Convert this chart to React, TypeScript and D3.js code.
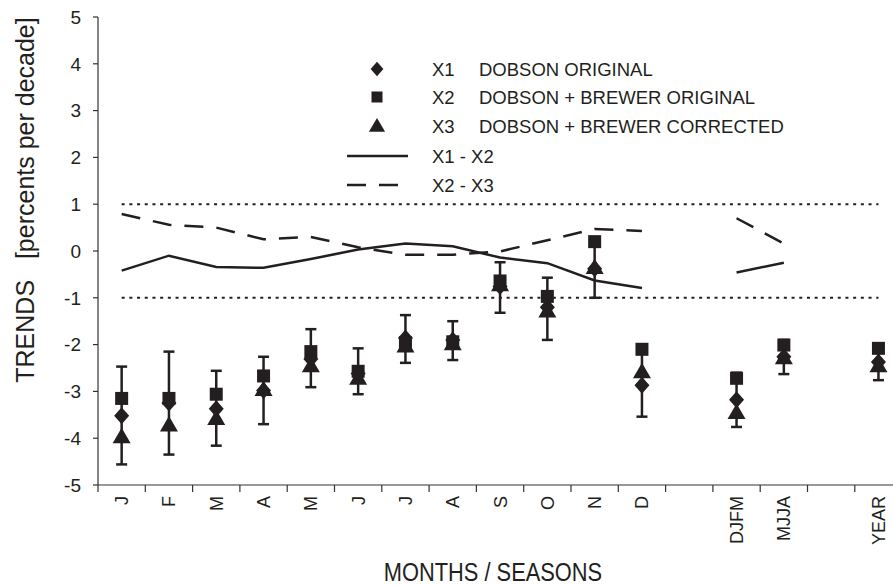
import { useEffect, useRef } from "react";
import * as d3 from "d3";

// ── Data ───────────────────────────────────────────────────────
const categories = ["J", "F", "M", "A", "M", "J", "J", "A", "S", "O", "N", "D", "", "DJFM", "MJJA", "", "YEAR"];

// X1 DOBSON ORIGINAL (diamonds)
const x1Values = [-3.52, -3.25, -3.37, -2.98, -2.31, -2.62, -1.86, -1.9, -0.76, -1.2, -0.38, -2.87, null, -3.18, -2.26, null, -2.37];
// X2 DOBSON + BREWER ORIGINAL (squares)
const x2Values = [-3.15, -3.15, -3.06, -2.67, -2.15, -2.57, -1.96, -1.94, -0.64, -0.97, 0.2, -2.1, null, -2.72, -2.01, null, -2.08];
// X3 DOBSON + BREWER CORRECTED (triangles)
const x3Values = [-3.97, -3.72, -3.58, -2.96, -2.45, -2.72, -2.03, -1.98, -0.72, -1.28, -0.35, -2.58, null, -3.45, -2.28, null, -2.45];
// error bar limits around X1
const errLow = [-4.56, -4.35, -4.16, -3.7, -2.91, -3.06, -2.39, -2.33, -1.32, -1.9, -1.0, -3.54, null, -3.76, -2.63, null, -2.76];
const errHigh = [-2.47, -2.15, -2.56, -2.26, -1.67, -2.08, -1.37, -1.5, -0.24, -0.57, 0.27, -2.2, null, -2.6, -1.9, null, -2.0];
// difference lines
const diff12 = [-0.42, -0.1, -0.34, -0.36, -0.17, 0.03, 0.16, 0.1, -0.14, -0.26, -0.63, -0.79, null, -0.46, -0.25, null, null];
const diff23 = [0.79, 0.56, 0.5, 0.25, 0.3, 0.08, -0.08, -0.08, -0.01, 0.23, 0.47, 0.43, null, 0.7, 0.16, null, null];

const yTicks = [5, 4, 3, 2, 1, 0, -1, -2, -3, -4, -5];
const limitLines = [1, -1];

const legendItems = [
  { kind: "diamond", label: "X1", text: "DOBSON ORIGINAL" },
  { kind: "square", label: "X2", text: "DOBSON + BREWER ORIGINAL" },
  { kind: "triangle", label: "X3", text: "DOBSON + BREWER CORRECTED" },
  { kind: "solid", label: "X1 - X2", text: "" },
  { kind: "dashed", label: "X2 - X3", text: "" },
];

const INK = "#231f20";
const FONT = "'Liberation Sans', Arial, Helvetica, sans-serif";

export default function App() {
  const svgRef = useRef<SVGSVGElement>(null);

  useEffect(() => {
    if (!svgRef.current) return;
    const svg = d3.select(svgRef.current);
    svg.selectAll("*").remove();

    const width = 893;
    const height = 585;
    const left = 98;
    const top = 17;
    const bottom = 485;
    const step = 47.3;

    const x = d3.scaleBand<number>()
      .domain(d3.range(categories.length))
      .range([left, left + step * categories.length])
      .padding(0);
    const cx = (i: number) => (x(i) ?? 0) + x.bandwidth() / 2;

    const y = d3.scaleLinear().domain([-5, 5]).range([bottom, top]);

    svg.attr("width", width).attr("height", height)
      .attr("viewBox", `0 0 ${width} ${height}`);

    svg.append("rect").attr("width", width).attr("height", height).attr("fill", "white");

    // ── Dotted ±1 lines ─────────────────────────────────────────
    limitLines.forEach((v) => {
      svg.append("line")
        .attr("x1", cx(0)).attr("x2", cx(categories.length - 1))
        .attr("y1", y(v)).attr("y2", y(v))
        .attr("stroke", INK)
        .attr("stroke-width", 2)
        .attr("stroke-dasharray", "3,4.7");
    });

    // ── Axes ────────────────────────────────────────────────────
    svg.append("line")
      .attr("x1", left).attr("x2", left)
      .attr("y1", top).attr("y2", bottom)
      .attr("stroke", "#333").attr("stroke-width", 1.2);
    svg.append("line")
      .attr("x1", left).attr("x2", width)
      .attr("y1", bottom).attr("y2", bottom)
      .attr("stroke", "#333").attr("stroke-width", 1.2);

    yTicks.forEach((t) => {
      svg.append("line")
        .attr("x1", left - 5).attr("x2", left)
        .attr("y1", y(t)).attr("y2", y(t))
        .attr("stroke", "#333").attr("stroke-width", 1.2);
      svg.append("text")
        .attr("x", left - 17).attr("y", y(t))
        .attr("dy", "0.36em")
        .attr("text-anchor", "end")
        .attr("font-family", FONT)
        .attr("font-size", 19)
        .attr("fill", INK)
        .text(t);
    });

    d3.range(categories.length + 1).forEach((k) => {
      const xt = left + k * step;
      if (xt > width) return;
      svg.append("line")
        .attr("x1", xt).attr("x2", xt)
        .attr("y1", bottom).attr("y2", bottom + 7)
        .attr("stroke", "#333").attr("stroke-width", 1.2);
    });

    categories.forEach((c, i) => {
      if (!c) return;
      svg.append("text")
        .attr("transform", `translate(${cx(i)},${bottom + 11}) rotate(-90)`)
        .attr("dy", "0.36em")
        .attr("text-anchor", "end")
        .attr("font-family", FONT)
        .attr("font-size", 18)
        .attr("fill", INK)
        .text(c);
    });

    // axis titles (condensed look via horizontal scale)
    svg.append("text")
      .attr("transform", "translate(493,581) scale(0.84,1)")
      .attr("text-anchor", "middle")
      .attr("font-family", FONT)
      .attr("font-size", 26)
      .attr("fill", INK)
      .text("MONTHS / SEASONS");

    svg.append("text")
      .attr("transform", `translate(34,200) rotate(-90)`)
      .attr("text-anchor", "middle")
      .attr("font-family", FONT)
      .attr("font-size", 25)
      .attr("fill", INK)
      .attr("xml:space", "preserve")
      .style("white-space", "pre")
      .text("TRENDS   [percents per decade]");

    // ── Difference lines ────────────────────────────────────────
    const line = d3.line<number | null>()
      .defined((d) => d != null)
      .x((_, i) => cx(i))
      .y((d) => y(d as number));

    svg.append("path")
      .attr("d", line(diff12))
      .attr("fill", "none")
      .attr("stroke", INK)
      .attr("stroke-width", 2.5);

    svg.append("path")
      .attr("d", line(diff23))
      .attr("fill", "none")
      .attr("stroke", INK)
      .attr("stroke-width", 2.5)
      .attr("stroke-dasharray", "19,13");

    // ── Error bars ──────────────────────────────────────────────
    categories.forEach((_, i) => {
      const lo = errLow[i];
      const hi = errHigh[i];
      if (lo == null || hi == null) return;
      const xc = cx(i);
      svg.append("line")
        .attr("x1", xc).attr("x2", xc)
        .attr("y1", y(lo)).attr("y2", y(hi))
        .attr("stroke", INK).attr("stroke-width", 2.5);
      [lo, hi].forEach((v) => {
        svg.append("line")
          .attr("x1", xc - 5.5).attr("x2", xc + 5.5)
          .attr("y1", y(v)).attr("y2", y(v))
          .attr("stroke", INK).attr("stroke-width", 2.5);
      });
    });

    // ── Markers ─────────────────────────────────────────────────
    const diamond = (xc: number, yc: number, s = 1) =>
      `M${xc},${yc - 8.5 * s}L${xc + 7.5 * s},${yc}L${xc},${yc + 8.5 * s}L${xc - 7.5 * s},${yc}Z`;
    const triangle = (xc: number, yc: number, s = 1) =>
      `M${xc},${yc - 9 * s}L${xc + 9 * s},${yc + 6.5 * s}L${xc - 9 * s},${yc + 6.5 * s}Z`;

    x2Values.forEach((v, i) => {
      if (v == null) return;
      svg.append("rect")
        .attr("x", cx(i) - 6.5).attr("y", y(v) - 6.5)
        .attr("width", 13).attr("height", 13)
        .attr("fill", INK);
    });
    x3Values.forEach((v, i) => {
      if (v == null) return;
      svg.append("path").attr("d", triangle(cx(i), y(v))).attr("fill", INK);
    });
    x1Values.forEach((v, i) => {
      if (v == null) return;
      svg.append("path").attr("d", diamond(cx(i), y(v))).attr("fill", INK);
    });

    // ── Legend ──────────────────────────────────────────────────
    const legendX = 377;
    const legendRows = [69, 97, 126, 156, 185];
    legendItems.forEach((item, i) => {
      const ly = legendRows[i];
      if (item.kind === "diamond") {
        svg.append("path").attr("d", diamond(legendX, ly, 0.85)).attr("fill", INK);
      } else if (item.kind === "square") {
        svg.append("rect")
          .attr("x", legendX - 5.5).attr("y", ly - 5.5)
          .attr("width", 11).attr("height", 11).attr("fill", INK);
      } else if (item.kind === "triangle") {
        svg.append("path").attr("d", triangle(legendX, ly, 0.9)).attr("fill", INK);
      } else {
        svg.append("line")
          .attr("x1", 347).attr("x2", item.kind === "solid" ? 408 : 398)
          .attr("y1", ly).attr("y2", ly)
          .attr("stroke", INK).attr("stroke-width", 2.5)
          .attr("stroke-dasharray", item.kind === "dashed" ? "19,13" : null);
      }
      svg.append("text")
        .attr("x", 432).attr("y", ly)
        .attr("dy", "0.36em")
        .attr("font-family", FONT)
        .attr("font-size", 18.5)
        .attr("fill", INK)
        .text(item.label);
      if (item.text) {
        svg.append("text")
          .attr("x", 479).attr("y", ly)
          .attr("dy", "0.36em")
          .attr("font-family", FONT)
          .attr("font-size", 18.5)
          .attr("fill", INK)
          .text(item.text);
      }
    });
  }, []);

  return (
    <svg
      ref={svgRef}
      style={{ position: "absolute", left: 0, top: 0, display: "block" }}
    />
  );
}
